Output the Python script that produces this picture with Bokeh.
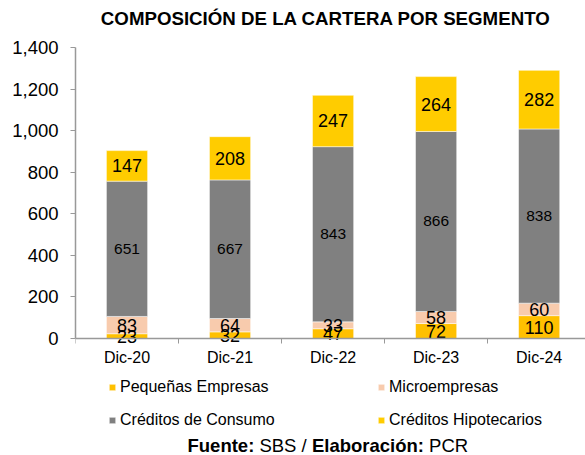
from bokeh.plotting import figure
from bokeh.models import (ColumnDataSource, Range1d, FixedTicker, Legend, LegendItem,
                          Label, NumeralTickFormatter)
from bokeh.core.properties import value
from bokeh.embed import file_html
from bokeh.resources import INLINE

# ---- data ----
categories = ["Dic-20", "Dic-21", "Dic-22", "Dic-23", "Dic-24"]
pequenas = [23, 32, 47, 72, 110]
micro = [83, 64, 33, 58, 60]
consumo = [651, 667, 843, 866, 838]
hipotecarios = [147, 208, 247, 264, 282]
series_names = ["Pequeñas Empresas", "Microempresas", "Créditos de Consumo", "Créditos Hipotecarios"]
y_ticks = [0, 200, 400, 600, 800, 1000, 1200, 1400]
title_text = "COMPOSICIÓN DE LA CARTERA POR SEGMENTO"
footer_parts = ["Fuente:", "SBS /", "Elaboración:", "PCR"]

colors = ["#FFC000", "#F8CBAD", "#808080", "#FFCC00"]
FONT = "Liberation Sans"

xs = list(range(len(categories)))
src = ColumnDataSource(dict(x=xs, peq=pequenas, mic=micro, con=consumo, hip=hipotecarios))

# the frame covers the full canvas height: 1,400 sits 47px below the top, 0 sits 117px above the bottom
y_top = 1400
px_per_unit = 291 / y_top
y_min = -117 / px_per_unit
y_max = y_top + 47 / px_per_unit

p = figure(width=585, height=455, output_backend="svg", toolbar_location=None,
           title_location=None,
           x_range=Range1d(-0.5, 4.45), y_range=Range1d(y_min, y_max),
           min_border_left=75, min_border_right=0, min_border_top=0, min_border_bottom=0)
p.outline_line_color = None
p.xgrid.grid_line_color = None
p.ygrid.grid_line_color = None
p.background_fill_color = "white"
p.border_fill_color = "white"

rs = p.vbar_stack(["peq", "mic", "con", "hip"], x="x", width=0.4, fill_color=colors,
                  line_color="white", line_alpha=0.5, line_width=1, source=src)

# labels
stacks = [pequenas, micro, consumo, hipotecarios]
sizes = ["18px", "18px", "15.5px", "18px"]
base = [0] * len(categories)
for vals, fs in zip(stacks, sizes):
    mids = [b + v / 2 for b, v in zip(base, vals)]
    p.text(x=xs, y=mids, text=[str(v) for v in vals], text_align="center",
           text_baseline="middle", text_font=value(FONT), text_font_size=fs, text_color="black")
    base = [b + v for b, v in zip(base, vals)]

# axes
ya = p.yaxis[0]
ya.ticker = FixedTicker(ticks=y_ticks)
ya.bounds = (0, y_top)
ya.formatter = NumeralTickFormatter(format="0,0")
ya.major_label_text_font = FONT
ya.major_label_text_font_size = "18.5px"
ya.major_label_text_color = "black"
ya.axis_line_color = "#999999"
ya.axis_line_width = 1.5
ya.major_tick_line_color = "#999999"
ya.major_tick_out = 5
ya.major_tick_in = 0
ya.minor_tick_line_color = None
ya.major_label_standoff = 12

xa = p.xaxis[0]
xa.fixed_location = 0
xa.ticker = FixedTicker(ticks=xs, minor_ticks=[i - 0.5 for i in range(len(categories) + 1)])
xa.major_label_overrides = {i: c for i, c in enumerate(categories)}
xa.major_label_text_font = FONT
xa.major_label_text_font_size = "16px"
xa.major_label_text_color = "black"
xa.axis_line_color = "#999999"
xa.axis_line_width = 1.5
xa.major_tick_line_color = None
xa.major_tick_out = 0
xa.major_tick_in = 0
xa.minor_tick_line_color = "#999999"
xa.minor_tick_out = 5
xa.minor_tick_in = 0
xa.major_label_standoff = 5

legend = Legend(items=[LegendItem(label=n, renderers=[r]) for n, r in zip(series_names, rs)],
                location=(33, 23), orientation="horizontal", ncols=2,
                glyph_width=8, glyph_height=8, label_standoff=4, label_width=249,
                label_height=25, spacing=8, padding=0, margin=0,
                border_line_color=None, background_fill_alpha=0,
                label_text_font=FONT, label_text_font_size="16px", label_text_color="black")
p.add_layout(legend, "center")

# title (screen offsets from the frame's bottom-left corner)
p.add_layout(Label(x=250.5, y=437, x_units="screen", y_units="screen", text=title_text,
                   text_font=FONT, text_font_size="18.7px", text_font_style="bold",
                   text_color="black", text_baseline="alphabetic", text_align="center"))

# footer
fx = [112.0, 183.9, 236.4, 353.6]
styles = ["bold", "normal", "bold", "normal"]
for t, x0, st in zip(footer_parts, fx, styles):
    p.add_layout(Label(x=x0, y=10, x_units="screen", y_units="screen", text=t,
                       text_font=FONT, text_font_size="18.5px", text_font_style=st,
                       text_color="black", text_baseline="alphabetic", text_align="left"))

open("out.html", "w").write(file_html(p, INLINE))
